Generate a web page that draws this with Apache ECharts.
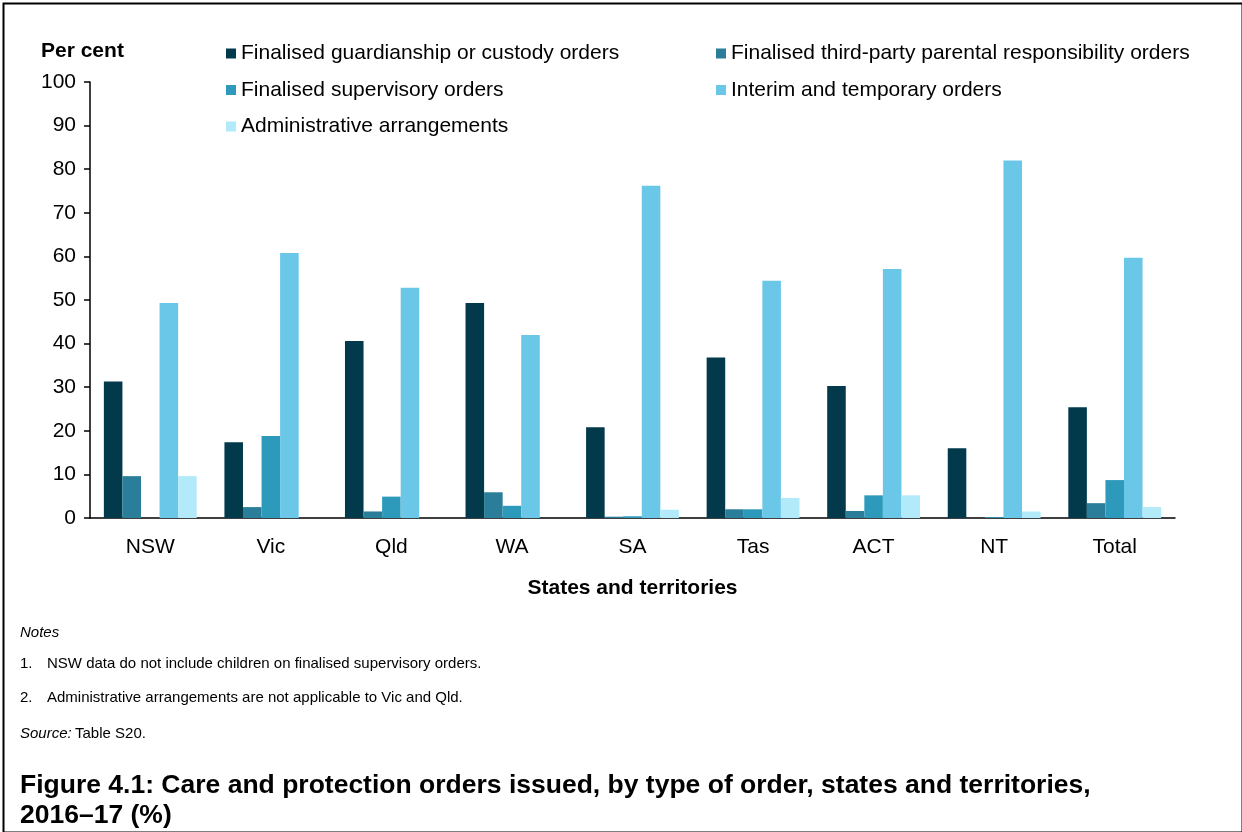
<!DOCTYPE html>
<html>
<head>
<meta charset="utf-8">
<script src="https://cdn.jsdelivr.net/npm/echarts@6/dist/echarts.min.js"></script>
<style>
  html, body { margin: 0; padding: 0; background: #fff; }
  #chart { width: 1242px; height: 832px; }
</style>
</head>
<body>
<div id="chart"></div>
<script>
// categories and series values (per cent)
var states = ['NSW', 'Vic', 'Qld', 'WA', 'SA', 'Tas', 'ACT', 'NT', 'Total'];
var guardianship = [31.3, 17.4, 40.6, 49.3, 20.8, 36.8, 30.3, 16.0, 25.4];
var thirdParty   = [9.6, 2.5, 1.5, 5.9, 0.3, 2.0, 1.6, 0, 3.4];
var supervisory  = [null, 18.8, 4.9, 2.8, 0.4, 2.0, 5.2, 0.2, 8.7];
var interim      = [49.3, 60.8, 52.8, 42.0, 76.2, 54.4, 57.1, 82.0, 59.7];
var adminArr     = [9.6, null, null, 0, 1.9, 4.6, 5.2, 1.5, 2.5];
var yTicks = [0, 10, 20, 30, 40, 50, 60, 70, 80, 90, 100];

var names = [
  'Finalised guardianship or custody orders',
  'Finalised third-party parental responsibility orders',
  'Finalised supervisory orders',
  'Interim and temporary orders',
  'Administrative arrangements'
];
var colors = ['#023a4b', '#2a7e99', '#2e9abb', '#6ac7e7', '#b3eaf9'];
var values = [guardianship, thirdParty, supervisory, interim, adminArr];

var font = '"Liberation Sans", Arial, sans-serif';

var series = [];
for (var i = 0; i < names.length; i++) {
  series.push({
    name: names[i],
    type: 'bar',
    data: values[i],
    barGap: '0%',
    barCategoryGap: '23%',
    itemStyle: { color: colors[i] },
    emphasis: { disabled: true }
  });
}

var legendText = { fontFamily: font, fontSize: 21, color: '#000', lineHeight: 21 };

var option = {
  animation: false,
  color: colors,
  textStyle: { fontFamily: font },
  grid: { left: 90, right: 67, top: 82, bottom: 314 },
  legend: [{
    data: [names[0], names[2], names[4]],
    orient: 'vertical',
    left: 221, top: 38,
    itemWidth: 10, itemHeight: 10, itemGap: 15.5,
    icon: 'rect',
    textStyle: legendText
  }, {
    data: [names[1], names[3]],
    orient: 'vertical',
    left: 711, top: 38,
    itemWidth: 10, itemHeight: 10, itemGap: 15.5,
    icon: 'rect',
    textStyle: legendText
  }],
  xAxis: {
    type: 'category',
    data: states,
    axisLine: { lineStyle: { color: '#000', width: 1.5 } },
    axisTick: { show: false },
    axisLabel: { fontFamily: font, fontSize: 21, color: '#000', margin: 19 },
    name: 'States and territories',
    nameLocation: 'middle',
    nameGap: 60,
    nameTextStyle: { fontFamily: font, fontSize: 21, fontWeight: 'bold', color: '#000' }
  },
  yAxis: {
    type: 'value',
    min: yTicks[0], max: yTicks[yTicks.length - 1], interval: 10,
    axisLine: { show: true, lineStyle: { color: '#000', width: 1.5 } },
    axisTick: { show: true, length: 6, lineStyle: { color: '#000', width: 1.5 } },
    axisLabel: { fontFamily: font, fontSize: 21, color: '#000', margin: 14 },
    splitLine: { show: false }
  },
  series: series,
  graphic: [
    { type: 'rect', left: 1, top: 1, shape: { width: 1239, height: 829 },
      style: { fill: 'none', stroke: '#000', lineWidth: 2 }, silent: true },
    { type: 'text', left: 41, top: 41,
      style: { text: 'Per cent', font: 'bold 21px ' + font, fill: '#000' } },
    { type: 'text', left: 20, top: 625,
      style: { text: 'Notes', font: 'italic 15px ' + font, fill: '#000' } },
    { type: 'text', left: 20, top: 656,
      style: { text: '1.', font: '15px ' + font, fill: '#000' } },
    { type: 'text', left: 47, top: 656,
      style: { text: 'NSW data do not include children on finalised supervisory orders.', font: '15px ' + font, fill: '#000' } },
    { type: 'text', left: 20, top: 690,
      style: { text: '2.', font: '15px ' + font, fill: '#000' } },
    { type: 'text', left: 47, top: 690,
      style: { text: 'Administrative arrangements are not applicable to Vic and Qld.', font: '15px ' + font, fill: '#000' } },
    { type: 'text', left: 20, top: 726,
      style: {
        text: '{i|Source:} {n|Table S20.}',
        rich: {
          i: { fontFamily: font, fontSize: 15, fontStyle: 'italic', fill: '#000' },
          n: { fontFamily: font, fontSize: 15, fill: '#000' }
        }
      } },
    { type: 'text', left: 20, top: 771,
      style: { text: 'Figure 4.1: Care and protection orders issued, by type of order, states and territories,\n2016\u201317 (%)',
        font: 'bold 26.5px ' + font, fill: '#000', lineHeight: 30 } }
  ]
};

var chart = echarts.init(document.getElementById('chart'));
chart.setOption(option);
window.addEventListener('resize', function () {
  chart.resize();
});
</script>
</body>
</html>
